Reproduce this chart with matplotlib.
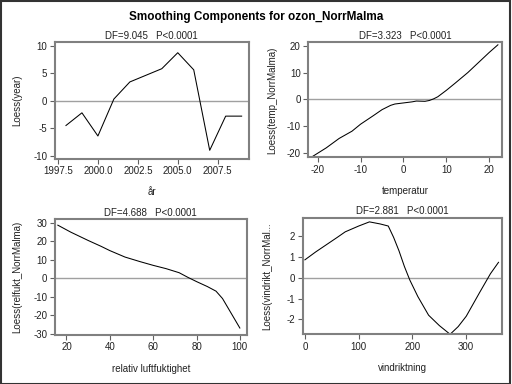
import matplotlib
matplotlib.use("Agg")
import matplotlib.pyplot as plt
from matplotlib.patches import Rectangle

plt.rcParams['font.family'] = ['Liberation Sans', 'DejaVu Sans']

# smoothing component curves
year = [1998, 1999, 2000, 2001, 2002, 2003, 2004, 2005, 2006, 2007, 2008, 2009]
loess_year = [-4.5, -2.2, -6.4, 0.3, 3.4, 4.6, 5.8, 8.7, 5.6, -9.0, -2.8, -2.8]

temp = [-21.5, -18, -15, -12, -10, -7, -5, -3, -2, 0, 2, 3, 5, 6, 7, 8, 10, 12, 15, 18, 20, 22]
loess_temp = [-21.5, -18, -14.5, -11.8, -9.2, -6.0, -3.8, -2.2, -1.7, -1.3, -0.9, -0.6, -0.7, -0.4, 0.2, 1.0, 3.4, 6.0, 10.0, 14.5, 17.5, 20.3]

relfukt = [16, 22, 30, 36, 40, 47, 54, 60, 66, 72, 76, 80, 85, 89, 92, 95, 100]
loess_relfukt = [28.8, 25.0, 20.5, 17.3, 15.0, 11.5, 9.0, 7.0, 5.2, 3.0, 0.5, -1.8, -4.5, -7.0, -11.0, -17.0, -27.0]

vindrikt = [0, 20, 40, 60, 75, 100, 120, 140, 155, 165, 175, 185, 195, 210, 230, 250, 270, 285, 300, 325, 345, 360]
loess_vindrikt = [0.87, 1.25, 1.6, 1.95, 2.22, 2.5, 2.7, 2.6, 2.5, 1.95, 1.3, 0.55, -0.1, -0.9, -1.8, -2.3, -2.72, -2.35, -1.85, -0.7, 0.2, 0.75]

panels = [
    dict(x=year, y=loess_year, xlabel='år', ylabel='Loess(year)', title='DF=9.045   P<0.0001',
         rect=[0.107, 0.587, 0.379, 0.303], xlim=(1997.3, 2009.45), ylim=(-10.5, 10.6),
         xticks=[1997.5, 2000.0, 2002.5, 2005.0, 2007.5], yticks=[-10, -5, 0, 5, 10], fmt='%.1f', ypad=8),
    dict(x=temp, y=loess_temp, xlabel='temperatur', ylabel='Loess(temp_NorrMalma)', title='DF=3.323   P<0.0001',
         rect=[0.602, 0.590, 0.378, 0.300], xlim=(-22.2, 22.9), ylim=(-21.56, 21.26),
         xticks=[-20, -10, 0, 10, 20], yticks=[-20, -10, 0, 10, 20], fmt='%d', ypad=6.5),
    dict(x=relfukt, y=loess_relfukt, xlabel='relativ luftfuktighet', ylabel='Loess(relfukt_NorrMalma)', title='DF=4.688   P<0.0001',
         rect=[0.107, 0.128, 0.375, 0.301], xlim=(14.6, 103.2), ylim=(-30.7, 32.0),
         xticks=[20, 40, 60, 80, 100], yticks=[-30, -20, -10, 0, 10, 20, 30], fmt='%d', ypad=8),
    dict(x=vindrikt, y=loess_vindrikt, xlabel='vindriktning', ylabel='Loess(vindrikt_NorrMal...', title='DF=2.881   P<0.0001',
         rect=[0.591, 0.130, 0.390, 0.303], xlim=(-4.3, 367), ylim=(-2.71, 2.9),
         xticks=[0, 100, 200, 300], yticks=[-2, -1, 0, 1, 2], fmt='%d', ypad=10),
]

fig = plt.figure(figsize=(5.12, 3.84), dpi=100)
fig.patches.append(Rectangle((0.001, 0.001), 0.996, 0.996, transform=fig.transFigure,
                             fill=False, edgecolor='#333333', linewidth=1.5))
fig.text(0.5, 0.956, 'Smoothing Components for ozon_NorrMalma', ha='center', va='center',
         fontsize=8.5, fontweight='bold', color='black')

for p in panels:
    ax = fig.add_axes(p['rect'])
    ax.axhline(0, color='#a0a0a0', linewidth=1.0, zorder=1)
    ax.plot(p['x'], p['y'], color='black', linewidth=0.75, zorder=2)
    ax.set_xlim(*p['xlim'])
    ax.set_ylim(*p['ylim'])
    ax.set_xticks(p['xticks'])
    ax.set_yticks(p['yticks'])
    ax.set_xticklabels([p['fmt'] % v for v in p['xticks']])
    ax.set_yticklabels(['%d' % v for v in p['yticks']])
    for s in ax.spines.values():
        s.set_color('#808080')
        s.set_linewidth(1.5)
    ax.tick_params(labelsize=7, length=3.5, width=0.8, color='#606060', pad=2, labelcolor='#222222')
    ax.set_title(p['title'], fontsize=7, pad=2.5, color='#222222')
    ax.set_xlabel(p['xlabel'], fontsize=7, labelpad=8, color='#222222')
    ax.set_ylabel(p['ylabel'], fontsize=7, labelpad=p['ypad'], color='#222222')

fig.savefig('out.png', dpi=100)
